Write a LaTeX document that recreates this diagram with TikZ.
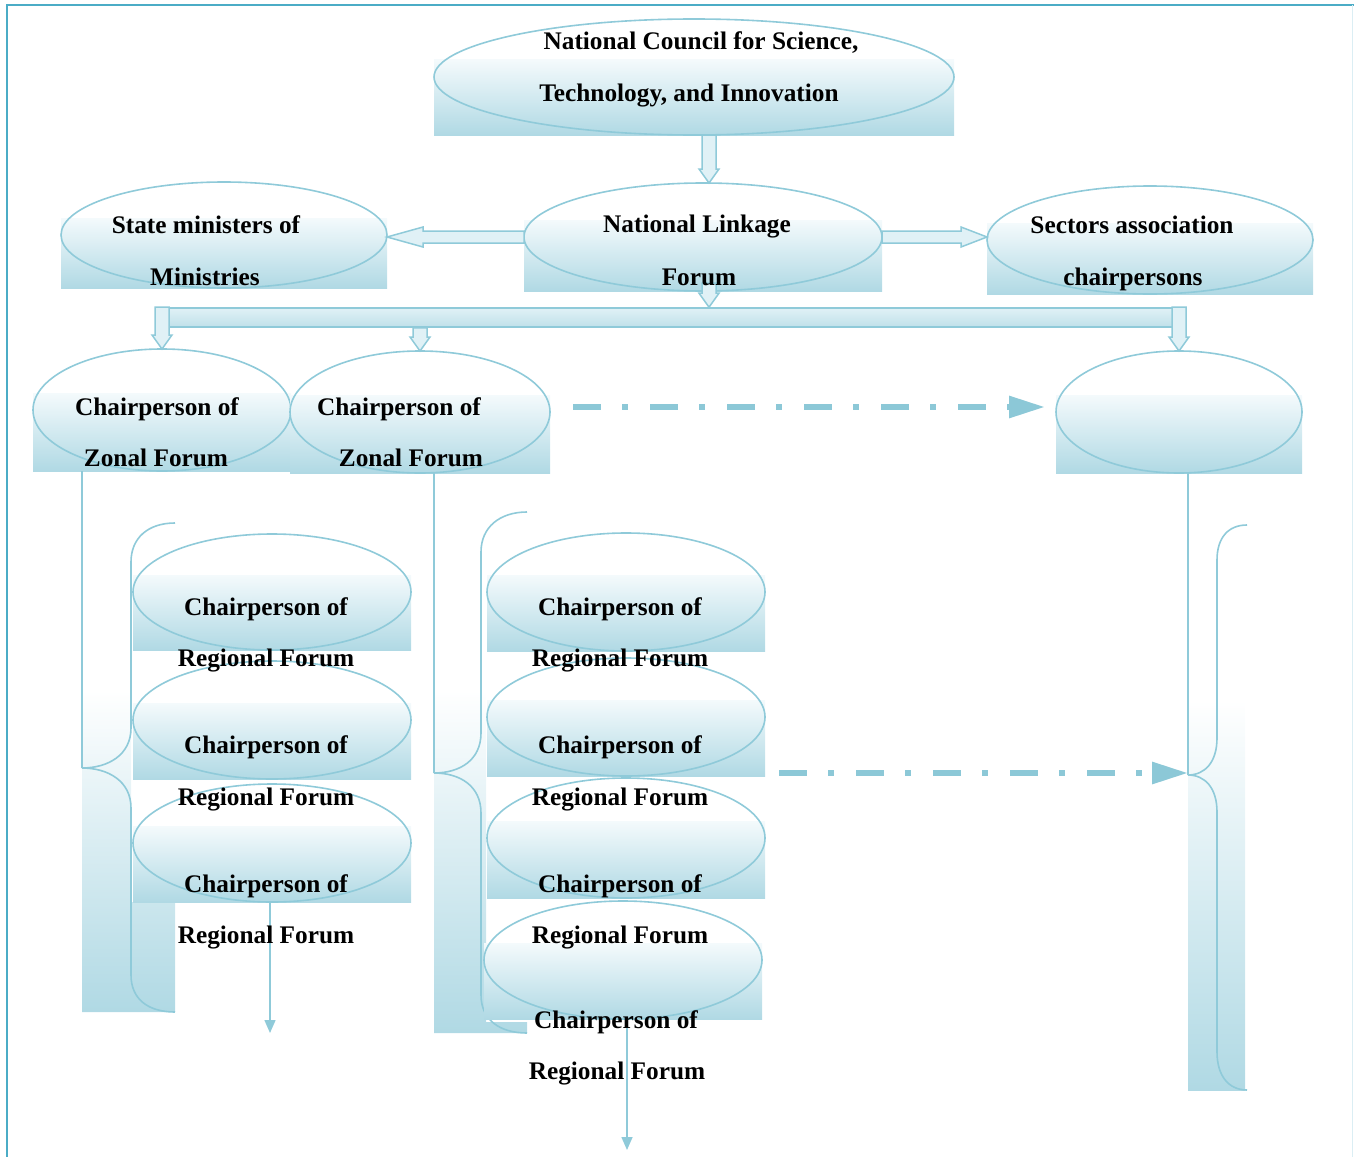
\documentclass[tikz,border=0pt]{standalone}
\usepackage{fontspec}
\setmainfont{Liberation Serif}
\usetikzlibrary{shapes.geometric,arrows.meta,calc}
\definecolor{edgec}{HTML}{8FCAD9}
\definecolor{shadeb}{HTML}{B0D9E4}
\definecolor{shadet}{HTML}{F4FAFC}
\definecolor{framec}{HTML}{4BACC6}
\definecolor{dashc}{HTML}{8CC8D7}
\definecolor{blkfill}{HTML}{E0F1F6}
\tikzset{
  bub/.style={ellipse, draw=edgec, line width=1.6pt, inner sep=0pt, outer sep=0pt},
  bgsh/.style={top color=shadet, bottom color=shadeb},
  bracesh/.style={top color=white, bottom color=shadeb},
  brc/.style={draw=edgec, line width=1.6pt},
  blk/.style={draw=edgec, fill=blkfill, line width=1.5pt, line join=miter},
  barsty/.style={rectangle, draw=edgec, line width=1.6pt, top color=blkfill, bottom color=shadeb!80, inner sep=0pt},
  thinarr/.style={draw=edgec, line width=1.5pt, -{Triangle[length=13pt,width=11pt]}},
  ddarr/.style={draw=dashc, line width=6pt, dash pattern=on 28pt off 21pt on 6pt off 22pt, -{Triangle[length=36pt,width=21pt]}},
  lbl/.style={anchor=base, inner sep=0pt, font=\fontsize{25.3}{30}\selectfont\bfseries},
  framesty/.style={draw=framec, line width=2.5pt}
}
\newcommand\bubble[5]{%
  \shade[bgsh] ({#2-#4},{#3-17}) rectangle ({#2+#4},{#3+#5});
  \node[bub, minimum width={2*#4}, minimum height={2*#5}] (#1) at (#2,#3) {};
}
\newcommand\downblk[2]{%
  \draw[blk] ($(#1)+(-7,0)$) -- ($(#2)+(-7,-14)$) -- ($(#2)+(-10,-14)$) -- (#2) -- ($(#2)+(10,-14)$) -- ($(#2)+(7,-14)$) -- ($(#1)+(7,0)$) -- cycle;
}
\newcommand\leftblk[2]{%
  \draw[blk] ($(#1)+(0,-6)$) -- ($(#2)+(36,-6)$) -- ($(#2)+(36,-10)$) -- (#2) -- ($(#2)+(36,10)$) -- ($(#2)+(36,6)$) -- ($(#1)+(0,6)$) -- cycle;
}
\newcommand\rightblk[2]{%
  \draw[blk] ($(#1)+(0,-6)$) -- ($(#2)+(-26,-6)$) -- ($(#2)+(-26,-10)$) -- (#2) -- ($(#2)+(-26,10)$) -- ($(#2)+(-26,6)$) -- ($(#1)+(0,6)$) -- cycle;
}
\begin{document}
\begin{tikzpicture}[x=1pt,y=-1pt]
\useasboundingbox (0,0) rectangle (1354,1156);

% brace shadings and curves
\shade[bracesh] (82,690) -- (131,690) -- (131,902) -- (175,902) -- (175,1012) -- (82,1012) -- cycle;
\shade[bracesh] (434,690) -- (486,690) -- (486,1022) -- (527,1022) -- (527,1033) -- (434,1033) -- cycle;
\shade[bracesh] (1188,700) -- (1245,700) -- (1245,1090) -- (1188,1090) -- cycle;
\coordinate (lbp) at (82,768);
\coordinate (mbp) at (434,773);
\coordinate (rbp) at (1188,775);
\draw[brc] (175,523) .. controls (148,523) and (131,538) .. (131,562) -- (131,728) .. controls (131,755) and (108,768) .. (lbp) .. controls (108,768) and (131,781) .. (131,808) -- (131,975) .. controls (131,999) and (148,1012) .. (175,1012);
\draw[brc] (527,512) .. controls (500,512) and (481,527) .. (481,552) -- (481,733) .. controls (481,760) and (460,773) .. (mbp) .. controls (460,773) and (481,786) .. (481,813) -- (481,995) .. controls (481,1020) and (500,1033) .. (527,1033);
\draw[brc] (1247,525) .. controls (1228,525) and (1217,538) .. (1217,560) -- (1217,738) .. controls (1217,762) and (1205,775) .. (rbp) .. controls (1205,775) and (1217,788) .. (1217,812) -- (1217,1052) .. controls (1217,1075) and (1228,1090) .. (1247,1090);

% bubbles
\bubble{nc}{694}{77}{260}{58}
\bubble{nlf}{703}{237}{179}{54}
\bubble{sm}{224}{235}{163}{53}
\bubble{sa}{1150}{240}{163}{54}
\bubble{za}{162}{410}{129}{61}
\bubble{zb}{420}{412}{130}{61}
\bubble{zc}{1179}{412}{123}{61}
\bubble{ra}{272}{592}{139}{58}
\bubble{rb}{272}{720}{139}{59}
\bubble{rc}{272}{843}{139}{59}
\bubble{ma}{626}{592}{139}{59}
\bubble{mb}{626}{717}{139}{59}
\bubble{mc}{626}{838}{139}{60}
\bubble{md}{623}{960}{139}{59}

% lines from zonal nodes to braces
\draw[brc] (lbp |- za.south) -- (lbp);
\draw[brc] (mbp |- zb.south) -- (mbp);
\draw[brc] (rbp |- zc.south) -- (rbp);

% bar
\node[barsty, minimum width=1020, minimum height=19] (bar) at (675,317.5) {};

% block arrows
\coordinate (a1s) at ($(nc.south)+(15,0)$);
\downblk{a1s}{a1s |- nlf.north}
\coordinate (a2s) at ($(nlf.south)+(6,-8)$);
\downblk{a2s}{a2s |- bar.north}
\leftblk{nlf.west}{sm.east |- nlf.west}
\rightblk{nlf.east}{sa.west |- nlf.east}
\downblk{za.north |- bar.north}{za.north}
\downblk{zb.north |- bar.south}{zb.north}
\downblk{zc.north |- bar.north}{zc.north}

% dash-dot arrows
\coordinate (da) at (573,407);
\draw[ddarr, shorten >=11pt] (da) -- (da -| zc.west);
\coordinate (db) at (779,773);
\draw[ddarr] (db) -- (db -| rbp);

% thin arrows
\coordinate (ea) at (270,1033);
\draw[thinarr] (rc.south -| ea) -- (ea);
\coordinate (eb) at (627,1150);
\draw[thinarr] (md.south -| eb) -- (eb);

% texts
\node[lbl] (t1a) at (701,50) {National Council for Science,};
\node[lbl] (t1b) at (689,101) {Technology, and Innovation};
\node[lbl] (t2a) at (697,232) {National Linkage};
\node[lbl] (t2b) at (699,285) {Forum};
\node[lbl] (t3a) at (206,233) {State ministers of};
\node[lbl] (t3b) at (205,285) {Ministries};
\node[lbl] (t4a) at (1132,233) {Sectors association};
\node[lbl] (t4b) at (1133,285) {chairpersons};
\node[lbl] (t5a) at (157,415) {Chairperson of};
\node[lbl] (t5b) at (156,466) {Zonal Forum};
\node[lbl] (t6a) at (399,415) {Chairperson of};
\node[lbl] (t6b) at (411,466) {Zonal Forum};
\node[lbl] (t7a) at (266,615) {Chairperson of};
\node[lbl] (t7b) at (266,666) {Regional Forum};
\node[lbl] (t8a) at (266,753) {Chairperson of};
\node[lbl] (t8b) at (266,805) {Regional Forum};
\node[lbl] (t9a) at (266,892) {Chairperson of};
\node[lbl] (t9b) at (266,943) {Regional Forum};
\node[lbl] (u1a) at (620,615) {Chairperson of};
\node[lbl] (u1b) at (620,666) {Regional Forum};
\node[lbl] (u2a) at (620,753) {Chairperson of};
\node[lbl] (u2b) at (620,805) {Regional Forum};
\node[lbl] (u3a) at (620,892) {Chairperson of};
\node[lbl] (u3b) at (620,943) {Regional Forum};
\node[lbl] (u4a) at (616,1028) {Chairperson of};
\node[lbl] (u4b) at (617,1079) {Regional Forum};

% frame
\draw[framesty] (7,1160) -- (7,5) -- (1356,5);
\draw[draw=framec!20, line width=1pt] (1352,5) -- (1352,1160);
\end{tikzpicture}
\end{document}
